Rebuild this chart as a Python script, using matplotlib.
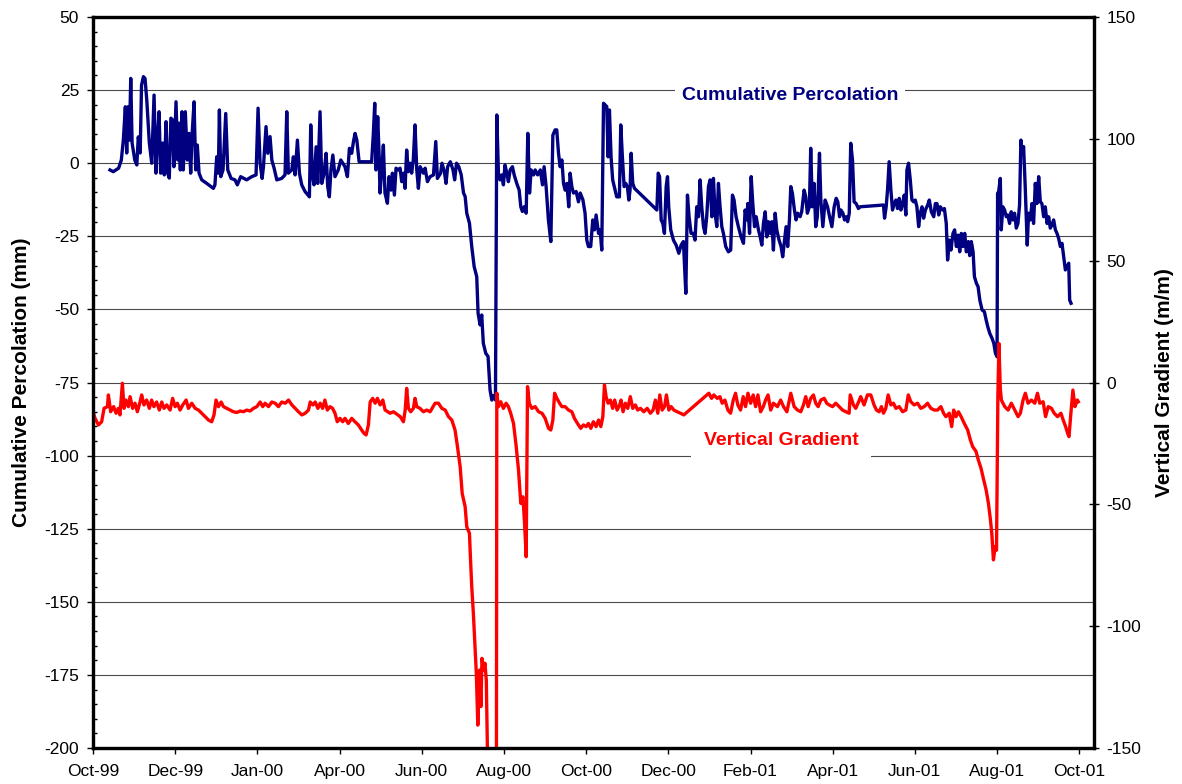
import numpy as np
import matplotlib
matplotlib.use('Agg')
import matplotlib.pyplot as plt
from matplotlib.ticker import MultipleLocator, FixedLocator

plt.rcParams['font.family'] = ['Liberation Sans', 'DejaVu Sans']
plt.rcParams['axes.unicode_minus'] = False

# days counted from the first tick (Oct-99)
tick_labels = ['Oct-99', 'Dec-99', 'Jan-00', 'Apr-00', 'Jun-00', 'Aug-00', 'Oct-00',
               'Dec-00', 'Feb-01', 'Apr-01', 'Jun-01', 'Aug-01', 'Oct-01']

# cumulative percolation (mm), left axis
perc_day = [
    12.6, 15, 19, 21, 22.5, 24, 25, 26, 27, 28, 29, 31, 32.5, 33.6, 35, 36, 37.4, 38.6, 39.9, 41.8,
    43.6, 45.3, 46.7, 47.7, 49, 50.2, 51.7, 52.9, 54.2, 55.4, 56.6, 57.8, 59, 60, 61.6, 62.9, 63.8,
    64.8, 66, 67, 68.5, 70, 71.3, 72.5, 73.5, 75, 76.2, 77.4, 78.7, 80.7, 84.4, 89.3, 90.5, 91.8, 93,
    93.8, 94.8, 96.5, 98.5, 100, 102.5, 105.4, 107.1, 109.6, 114, 117.8, 121, 122.5, 124, 125.5,
    126.5, 128.4, 129.7, 131.4, 132.7, 134.4, 136.4, 140, 142.5, 143.8, 145, 147.5, 148.7, 150,
    151.7, 153.2, 154.9, 157.4, 160.6, 161.6, 162.8, 164, 165.6, 166.8, 168.5, 169.8, 171.5, 173,
    174.2, 175.4, 176.6, 178, 179.6, 182, 183.9, 187, 188.8, 190.3, 192, 193.3, 194.5, 195.8, 197.5,
    206.8, 208, 209.1, 210, 211.3, 212.3, 213, 214.3, 215.5, 216.7, 218.5, 219.7, 221.2, 222.2,
    223.7, 224.9, 226.6, 227.9, 229.1, 230.3, 231.6, 232.8, 234, 235.3, 236.5, 237.7, 239, 240.3,
    241.5, 242.8, 245.2, 246.5, 248.2, 250.2, 252.7, 254.4, 255.6, 258, 259, 260.8, 262, 263.2,
    265.2, 267.2, 268.4, 269.8, 271.5, 273.3, 275, 276.2, 277.4, 279.4, 281.1, 282.9, 284.8, 285.8,
    287.3, 288.5, 289.7, 291.5, 293.2, 294.7, 296, 297.1, 298.7, 299.7, 300.9, 302.1, 303.4, 304.6,
    305.8, 307.1, 308.3, 309.6, 311.3, 312.6, 314.5, 316.3, 317.5, 318.7, 320, 321.5, 322.7, 324,
    325.2, 327, 328.2, 330, 332, 333.6, 334.8, 336.3, 338, 339.8, 341.3, 343, 344.2, 345.5, 346.7,
    348, 349.2, 350.4, 351.7, 353.1, 354.1, 355.4, 356.6, 358.6, 360.3, 361.6, 363.6, 365.2, 366.5,
    367.7, 369.4, 370.9, 372.2, 373.4, 375.2, 376.4, 377.6, 378.9, 380.1, 381.3, 382.3, 383.3,
    384.5, 385.7, 387.5, 388.7, 390.7, 391.7, 392.9, 394.2, 395.4, 396.6, 397.7, 398.6, 399.4,
    400.6, 401.9, 418.5, 419.5, 420.5, 421.7, 422.9, 424.1, 425.4, 426.4, 427.3, 428.8, 430.8,
    432.8, 434.8, 436.5, 438.2, 440, 441.2, 442.4, 443.9, 445.6, 446.8, 448.1, 449.4, 450.6, 451.8,
    453.1, 454.3, 455.5, 456.8, 458, 459.3, 460.5, 461.7, 463, 464.2, 465.4, 466.7, 467.9, 469.6,
    471.6, 473.3, 474.6, 475.8, 477.3, 479, 481, 482.8, 484, 485.3, 486, 487.3, 488.5, 489.7, 491,
    492.2, 493.9, 495.2, 496.4, 497.6, 498.9, 500.1, 501.3, 502.6, 503.8, 505, 506.3, 507.5, 509.2,
    510.7, 511.9, 513.2, 514.4, 515.6, 516.9, 517.9, 519.1, 520.6, 521.8, 523, 524.8, 526, 527.8,
    529, 530.2, 531.7, 532.7, 533.9, 535.2, 536.4, 537.6, 539.2, 540.2, 541.7, 543.4, 545.2, 546.7,
    548.4, 550.1, 551.6, 552.8, 554.1, 555.1, 556.6, 557.8, 559.1, 560.1, 561.3, 562.4, 563.7,
    564.9, 566.4, 568.1, 569.4, 586.7, 587.5, 588.7, 589.7, 590.9, 592.2, 593.4, 594.6, 595.9,
    597.1, 598.4, 599.6, 600.9, 602.1, 603.3, 604.1, 605.3, 606.6, 607.8, 609.1, 610.3, 611.5,
    612.8, 614, 615.3, 616.5, 617.8, 619.5, 620.7, 622.2, 624, 625.2, 626.4, 627.7, 628.9, 630.4,
    631.9, 633.3, 634.3, 635.6, 636.8, 638.3, 639.5, 640.8, 642, 643.3, 644.5, 645.7, 647, 648.2,
    649.7, 650.7, 651.9, 653.2, 654.2, 655.7, 656.9, 658.2, 659.9, 661.6, 662.9, 664.1, 665.6,
    667.3, 668.6, 669.8, 671, 671.4, 672.2, 673.4, 674.1, 675.3, 676.6, 677.8, 679, 680.3, 681.5,
    682.8, 684, 685.3, 686.5, 687.7, 688.7, 689.7, 690.7, 691.9, 693.4, 694.4, 695.7, 696.9, 698.1,
    699.4, 700.6, 701.9, 703.1, 704.3, 705.6, 706.8, 708.1, 709.3, 710.5, 711.8, 713, 714.3, 715.5,
    716.7, 718, 719.2, 720.5, 721.7, 722.9, 724.2, 724.9, 725.9]
perc_mm = [
    -2.3, -2.9, -1.7, 1.1, 7.9, 19.3, 3.5, 19.3, 7.9, 29.0, 6.9, 1.1, -0.6, 9.0, 3.5, 26.7, 29.6, 29.0,
    21.6, 6.9, 0.0, 23.3, -3.4, 6.9, 17.6, -3.4, 6.9, -4.0, 14.2, -3.4, -5.1, 15.4, 14.8, -1.2, 21.0,
    1.1, 13.7, -2.3, 17.6, -2.3, 17.6, 1.1, 10.2, -3.4, 9.6, 21.0, -2.3, 6.2, -3.4, -5.7, -6.9, -8.6,
    -7.4, 2.2, -3.4, 18.2, -4.6, -2.3, 17.0, -2.3, -5.2, -5.7, -7.4, -4.6, -5.7, -4.6, -4.0, 18.8,
    0.0, -5.2, -1.2, 12.5, 3.4, 9.1, 1.1, -1.7, -5.7, -5.2, -4.0, 17.6, -3.4, -2.3, 2.2, -4.0, 7.9,
    -3.4, -7.4, -9.7, -11.5, 13.1, -4.0, -7.4, 5.6, -6.9, 17.6, -6.9, -3.4, 3.4, -8.0, -11.5, -2.3,
    2.8, -4.6, -2.3, 1.1, -1.2, -4.6, 5.1, 3.4, 7.4, 10.2, 7.9, 0.5, 0.5, 9.6, 20.5, -2.3, 15.9, 3.4,
    -10.2, -2.3, 6.2, -10.2, -13.7, -4.6, -9.2, -3.4, -10.9, -1.7, -2.3, -1.7, -6.3, -3.4, -8.6, 4.5,
    -2.9, 0.0, -3.4, 1.1, 13.1, -2.3, -8.6, -1.2, -3.4, -1.7, -6.3, -4.6, -4.0, 7.4, -5.2, -3.4, 0.0,
    -2.9, -6.9, -1.2, 0.5, -2.3, -5.7, 0.0, -1.2, -4.0, -10.2, -11.4, -17.1, -20.5, -28.5, -35.4,
    -38.8, -51.3, -55.3, -51.9, -61.6, -65.0, -66.1, -77.6, -81.0, -79.5, -81.0, 16.5, -3.4, -5.7,
    -4.0, -7.4, -0.6, -3.4, -6.3, -2.3, -1.2, -4.0, -6.9, -9.2, -14.9, -16.5, -14.9, -17.1, 10.2,
    -10.2, -2.3, -4.0, -2.3, -4.0, -2.3, -7.4, -1.2, -8.0, -19.4, -26.8, 9.6, 11.4, 11.4, 3.4, -1.2,
    1.1, -6.9, -9.2, -6.9, -14.9, -3.4, -8.0, -10.2, -9.7, -13.2, -10.2, -12.5, -17.1, -26.3, -28.5,
    -28.5, -19.4, -22.8, -17.7, -24.0, -22.8, -29.7, 20.5, 19.9, 19.4, 2.2, 18.2, 2.2, -5.7, -9.2,
    -11.5, -11.5, 13.1, 2.2, -8.0, -6.9, -8.0, -12.6, -9.2, 3.4, -6.9, -8.6, -16.0, -3.4, -4.6, -19.4,
    -20.6, -24.0, -8.0, -4.6, -14.9, -22.8, -26.3, -28.0, -30.8, -28.0, -26.8, -44.5, -10.9, -18.3,
    -24.0, -24.0, -26.3, -14.9, -18.3, -5.7, -14.9, -21.7, -24.0, -18.3, -8.0, -5.7, -18.3, -5.2,
    -17.1, -21.7, -6.9, -14.9, -21.7, -24.0, -28.5, -30.3, -29.7, -10.9, -12.6, -18.3, -21.7, -25.2,
    -27.4, -16.0, -19.4, -13.8, -24.0, -4.6, -13.8, -21.7, -18.3, -22.8, -25.2, -28.0, -20.6, -16.6,
    -25.2, -20.0, -24.0, -20.0, -29.7, -17.1, -22.8, -26.3, -28.5, -32.0, -26.8, -21.7, -28.5, -19.4,
    -8.0, -10.3, -16.0, -19.4, -17.1, -18.3, -16.6, -9.2, -11.5, -17.1, -14.9, 5.1, -14.9, -6.9,
    -21.7, -18.3, 3.4, -12.6, -21.7, -12.6, -14.9, -18.3, -21.7, -14.9, -12.0, -13.2, -18.3, -16.0,
    -17.1, -19.4, -18.3, -20.0, -17.1, 6.8, 1.1, -13.2, -13.8, -15.5, -14.9, -14.3, -18.8, -14.9,
    -9.2, 0.5, -9.2, -16.0, -13.8, -12.6, -15.5, -12.0, -16.0, -13.8, -10.9, -17.7, -2.3, 0.0, -5.7,
    -12.6, -13.2, -12.6, -14.9, -21.7, -17.1, -14.9, -18.8, -16.0, -14.3, -12.6, -16.6, -18.3, -13.8,
    -13.8, -17.7, -14.9, -16.0, -15.5, -20.6, -33.1, -26.3, -29.7, -24.0, -22.8, -28.5, -24.6, -30.3,
    -24.0, -28.5, -24.0, -30.3, -26.8, -31.6, -26.8, -30.3, -38.8, -41.1, -42.2, -46.8, -50.2, -50.8,
    -53.6, -55.9, -58.2, -59.9, -61.6, -65.0, -66.2, -10.3, -9.7, -5.2, -22.8, -14.9, -16.0, -18.3,
    -17.7, -20.6, -16.6, -19.4, -17.1, -22.2, -20.6, -14.3, 7.9, 3.4, 5.7, -8.0, -28.0, -17.1, -19.4,
    -13.8, -20.6, -6.9, -13.8, -4.6, -13.2, -13.8, -18.3, -14.9, -20.6, -18.3, -22.2, -21.1, -19.4,
    -22.8, -24.0, -25.7, -28.5, -27.4, -32.0, -36.5, -35.4, -34.2, -46.8, -47.9]

# vertical gradient (m/m), right axis
grad_day = [
    0, 1.5, 4, 6.4, 8.2, 10.7, 11.4, 13.1, 15.3, 17.1, 18.8, 20, 21.8, 23, 24.5, 26.2, 27.5, 29.4, 31.2,
    32.9, 34.9, 36.1, 37.8, 39.8, 41.8, 43.5, 45.2, 47.2, 49.2, 51, 52.7, 54.7, 57.2, 59.1, 60.9, 62.6,
    64.6, 66.6, 69.1, 70.8, 73.3, 75.8, 78.3, 80.7, 83.2, 85.7, 88.1, 89.8, 91.3, 93.1, 95.1, 96.8,
    99.3, 101.8, 104.2, 106.7, 109.2, 111.6, 114.1, 116.6, 119.1, 121.6, 124, 126, 127.7, 130.2,
    132.7, 135.2, 137.6, 140.1, 142.6, 145.1, 147.6, 150, 152.5, 155, 157.5, 159.9, 161.2, 163.2,
    164.9, 166.9, 168.6, 170.4, 172.1, 173.9, 175.9, 177.8, 179.6, 181.3, 183.3, 185.3, 187, 189.5,
    192, 194.4, 196.9, 199.4, 201.2, 202.7, 204.4, 205.7, 207.6, 209.4, 211.1, 213.1, 215.1, 216.8,
    218.8, 220.5, 223, 225.5, 228, 230.4, 231.7, 232.8, 234.1, 235.8, 237.8, 239, 240.3, 242.7,
    245.2, 247.7, 250.2, 253.9, 256.4, 258.9, 261.4, 263.8, 266.3, 268.7, 270.5, 272.5, 274, 276.2,
    277.4, 279.4, 280.1, 281.1, 282.3, 283.3, 284.5, 285.6, 286.9, 287.9, 288.7, 289.9, 290.9,
    291.9, 292.7, 293.9, 299.4, 299.7, 300.9, 302.6, 304.6, 306.6, 308.3, 310, 312.1, 314.1, 315.8,
    317.5, 319.1, 320.3, 321.5, 322.5, 323.8, 325.7, 328.2, 330.7, 333.2, 335.6, 338.1, 339.8,
    341.3, 342.6, 344.3, 346.3, 348, 350.4, 352.9, 355.4, 357.3, 359.6, 362, 364, 366, 367.7, 369.5,
    371.4, 373.4, 375.2, 376.9, 378.4, 379.6, 380.8, 382.3, 384, 385.7, 387.2, 389, 390.9, 391.9,
    393.4, 395.1, 396.9, 398.8, 400.6, 402.5, 404.3, 406.3, 408.8, 411.3, 413.7, 415.7, 417.4,
    419.2, 420.7, 422.4, 424.2, 425.6, 427.4, 429.1, 431.1, 433.6, 436, 438.5, 457.1, 459.1, 460.8,
    463.3, 465.3, 467, 469, 471.2, 473.2, 475.2, 476.9, 478.6, 480.6, 482.6, 484.3, 486.1, 488.1,
    490, 491.8, 493.5, 495.5, 497.5, 499.2, 501, 503, 505, 508, 510.4, 512.5, 515, 517.9, 520.4,
    522.9, 525.3, 527.3, 529, 530.8, 532.7, 534.7, 536.4, 538.2, 540.2, 542.7, 544.6, 546.4, 548.9,
    551.3, 553.8, 556.3, 558.8, 561.2, 562, 564.4, 566.1, 567.8, 569.8, 572.3, 574.8, 577.3, 579.7,
    581.5, 583.5, 585.2, 586.7, 588.4, 590.2, 592.2, 594.1, 595.9, 598.4, 600.9, 603.3, 605.1, 607,
    609.5, 612, 614.4, 616.9, 619.4, 621.9, 624.4, 626.8, 629.3, 631.3, 633, 635.5, 637.3, 638.8,
    640.5, 642.3, 644.3, 646.7, 649.2, 651.2, 652.9, 655.4, 657.1, 659.1, 661.1, 662.9, 664.6,
    666.1, 667.1, 668.3, 669.6, 670.6, 671.6, 672.4, 673.4, 674.2, 676.7, 679.2, 681.6, 684.1,
    686.6, 688.3, 690.3, 692, 694, 696.5, 699, 701, 702.7, 705.2, 707, 709, 711.4, 713.4, 715.9,
    718.4, 720.1, 721.9, 723.4, 724.4, 725.8, 727.3, 728.8, 730.6, 731.3]
grad_val = [
    -12, -14.7, -17.4, -16.1, -10.6, -9.9, -5.1, -12, -9.9, -12.6, -10.6, -13.3, -0.3, -10.6, -7.2,
    -9.9, -5.8, -10.6, -8.5, -12, -8, -5.1, -9.2, -7.2, -10.6, -7.2, -9.9, -8, -11.3, -8, -10.6, -9.2,
    -11.3, -6.5, -9.9, -8.5, -11.3, -9.2, -7.2, -10.6, -8.5, -10.6, -11.3, -12.6, -14, -15.4, -16.1,
    -13.3, -7.2, -9.9, -8, -9.9, -10.6, -11.3, -12, -12.3, -11.7, -12, -11.3, -11.7, -10.6, -9.9, -8,
    -9.9, -8.5, -9.9, -8, -8.5, -9.9, -8, -8.5, -7.2, -9.2, -10.6, -12, -13.3, -12.6, -11.3, -8, -9.2,
    -8, -10.6, -8.5, -10.6, -7.2, -11.3, -9.9, -10.6, -12.6, -16.1, -14.7, -16.1, -14.7, -16.8, -14.7,
    -16.1, -17.4, -19.5, -20.9, -21.5, -17.4, -8, -6.5, -8.5, -6.5, -9.2, -7.2, -11.3, -12, -12.6, -12,
    -13, -14, -16.1, -11.3, -2.4, -10.6, -12, -10.6, -6.5, -9.9, -10.6, -12, -11.3, -12, -8.5, -8.5,
    -10.6, -11.3, -14, -15.4, -19.5, -26.3, -34.6, -45.5, -51, -59.2, -61.9, -71.5, -83.8, -94.7,
    -105.7, -119.3, -140.6, -118, -133, -113.2, -118, -115.2, -122.1, -149.5, -165, -165, -4.4, -9.9,
    -7.9, -10.6, -8.5, -9.9, -12.6, -16.8, -26.3, -35.9, -49.6, -46.9, -57.8, -71.5, -1.7, -8.5,
    -10.6, -9.9, -12, -12.6, -14.7, -18.8, -19.5, -15.4, -4.4, -6.5, -8.5, -9.9, -9.9, -11.3, -12,
    -14.7, -16.8, -18.8, -17.4, -18.1, -16.8, -18.8, -16.1, -18.1, -15.4, -18.1, -14, -1, -5.8, -8.5,
    -7.2, -10.6, -7.2, -11.3, -9.2, -7.2, -12, -8.5, -10.6, -5.8, -10.6, -9.2, -11.3, -10.6, -12,
    -10.6, -12.6, -11.3, -7.2, -12.6, -5.1, -11.3, -9.9, -5.1, -11.3, -9.9, -11.3, -12, -12.6, -13.3,
    -4.4, -6.5, -5.1, -6.5, -5.8, -8.5, -7.2, -11.3, -12.6, -7.2, -4.4, -9.2, -11.3, -5.8, -9.9, -4.4,
    -8.5, -5.1, -9.9, -5.1, -12, -9.9, -7.2, -5.1, -11.3, -8.5, -9.9, -7.2, -9.9, -12, -4.4, -9.9,
    -11.3, -12, -9.2, -5.8, -9.9, -6.5, -5.1, -8.5, -9.9, -7.2, -6.5, -8.5, -9.2, -9.9, -8.5, -9.9,
    -11.3, -12, -12.6, -5.1, -9.2, -10.6, -8.5, -5.8, -9.2, -5.1, -5.1, -9.2, -11.3, -12, -9.9, -12.6,
    -10.6, -5.1, -9.2, -8.5, -10.6, -9.9, -12, -11.3, -5.1, -7.9, -9.2, -8.5, -10.6, -9.9, -8.5,
    -10.6, -11.3, -11.3, -9.9, -12.6, -14, -12.6, -18.1, -11.3, -14, -12, -14, -16.8, -19.5, -23.6,
    -26.3, -28.3, -31.8, -35.2, -40, -44.1, -49.6, -56.4, -61.9, -72.8, -67.4, -68.8, -5.8, 16.0,
    -2.4, -7.2, -9.9, -11.3, -8.5, -11.3, -14, -12.6, -7.2, -4.4, -8.5, -7.2, -8.5, -4.4, -8.5, -7.9,
    -14, -9.9, -10.6, -12.6, -14, -12.6, -15.4, -18.1, -20.9, -22.2, -12.6, -3.1, -9.9, -7.2, -7.9]

fig = plt.figure(figsize=(11.82, 7.84), dpi=100)
ax1 = fig.add_axes([0.0787, 0.0459, 0.8469, 0.9324])
ax2 = ax1.twinx()

ax1.plot(perc_day, perc_mm, color='#000080', linewidth=2.4, solid_joinstyle='round')
ax2.plot(grad_day, grad_val, color='#FF0000', linewidth=2.4, solid_joinstyle='round')

ax1.set_xlim(0, 743)
ax1.set_ylim(-200, 50)
ax2.set_ylim(-150, 150)

ax1.xaxis.set_major_locator(FixedLocator(np.arange(len(tick_labels)) * 61))
ax1.set_xticklabels(tick_labels)
ax1.yaxis.set_major_locator(MultipleLocator(25))
ax1.yaxis.set_minor_locator(MultipleLocator(5))
ax2.yaxis.set_major_locator(MultipleLocator(50))

ax1.yaxis.grid(True, which='major', color='#4a4a4a', linewidth=0.8)

ax1.tick_params(axis='y', which='major', direction='out', length=4, width=1, labelsize=12.5, pad=6)
ax1.tick_params(axis='y', which='minor', direction='in', length=3, width=1)
ax1.tick_params(axis='x', direction='out', length=4.5, width=1, labelsize=12.5, pad=7)
ax2.tick_params(axis='y', direction='inout', length=7.5, width=1, labelsize=12.5, pad=5)

for a in (ax1, ax2):
    for sp in a.spines.values():
        sp.set_linewidth(2.3)

ax1.set_ylabel('Cumulative Percolation (mm)', fontsize=15, fontweight='bold')
ax1.yaxis.set_label_coords(-0.062, 0.5)
ax2.set_ylabel('Vertical Gradient (m/m)', fontsize=15, fontweight='bold')
ax2.yaxis.set_label_coords(1.061, 0.5)

ax1.text(517.4, 23.3, 'Cumulative Percolation', color='#000080', fontsize=14, fontweight='bold',
         ha='center', va='center', bbox=dict(facecolor='white', edgecolor='none', pad=5))
ax1.text(510.8, -95.0, 'Vertical Gradient', color='#FF0000', fontsize=14, fontweight='bold',
         ha='center', va='center', bbox=dict(facecolor='white', edgecolor='none', pad=9))

fig.savefig('out.png', dpi=100)
